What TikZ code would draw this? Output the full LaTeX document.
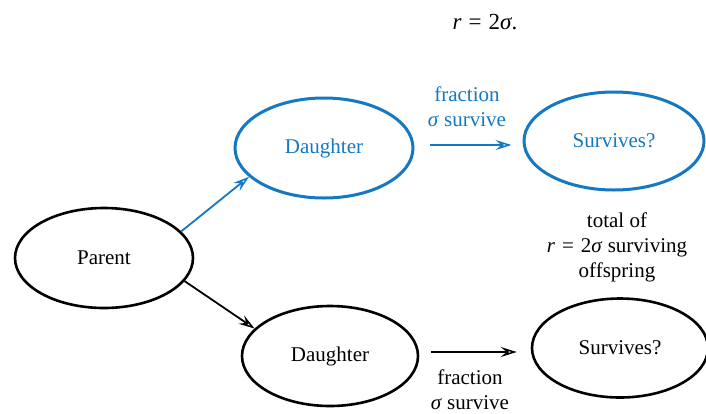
\documentclass[tikz,border=0pt]{standalone}
\usepackage{fontspec}
\setmainfont{Liberation Serif}
\usetikzlibrary{shapes.geometric,arrows.meta}
\definecolor{tblue}{RGB}{20,120,195}
\tikzset{
  ell/.style={ellipse, draw, inner sep=0pt, minimum width=178pt, minimum height=100pt, line width=2.6pt},
  bell/.style={ell, draw=tblue, text=tblue, line width=3pt},
  txt/.style={inner sep=0pt, align=center},
  arr/.style={line width=1.8pt, -{Stealth[open, length=16pt, width=10pt, inset=6pt, line width=1.5pt]}},
  big/.style={font=\fontsize{21}{27}\selectfont}
}
\newcommand{\eqsp}{\hspace{7pt}}
\begin{document}
\begin{tikzpicture}[x=1pt, y=-1pt, big]
\useasboundingbox (0,0) rectangle (706,413);
\fill[white] (0,0) rectangle (706,413);
\node[txt, font=\fontsize{23}{27}\selectfont] (eq) at (485,22) {\textit{r}\eqsp=\eqsp2\textit{σ}.};
\node[ell] (P) at (104,258) {Parent};
\node[bell] (D1) at (324,148) {Daughter};
\node[bell, minimum width=180pt, minimum height=98pt] (S1) at (614,141) {Survives?};
\node[ell, minimum width=176pt] (D2) at (330,356) {Daughter};
\node[ell, minimum width=176pt, minimum height=99pt] (S2) at (620,348) {Survives?};
\node[txt, text=tblue] (L1) at (467,107) {fraction\\[-2pt]\textit{σ} survive};
\node[txt] (L2) at (470,390) {fraction\\[-2pt]\textit{σ} survive};
\node[txt] (T) at (617,247) {total of\\[-2pt]\textit{r}\eqsp=\eqsp2\textit{σ} surviving\\[-2pt]offspring};
\draw[arr, draw=tblue] (P.19) -- (D1.201);
\draw[arr] (P.-16) -- (D2.160);
\draw[arr, draw=tblue] ([xshift=15pt,yshift=3pt]D1.east) -- ([xshift=-11pt,yshift=-4pt]S1.west);
\draw[arr] ([xshift=12pt,yshift=4pt]D2.east) -- ([xshift=-14pt,yshift=-4pt]S2.west);
\end{tikzpicture}
\end{document}
